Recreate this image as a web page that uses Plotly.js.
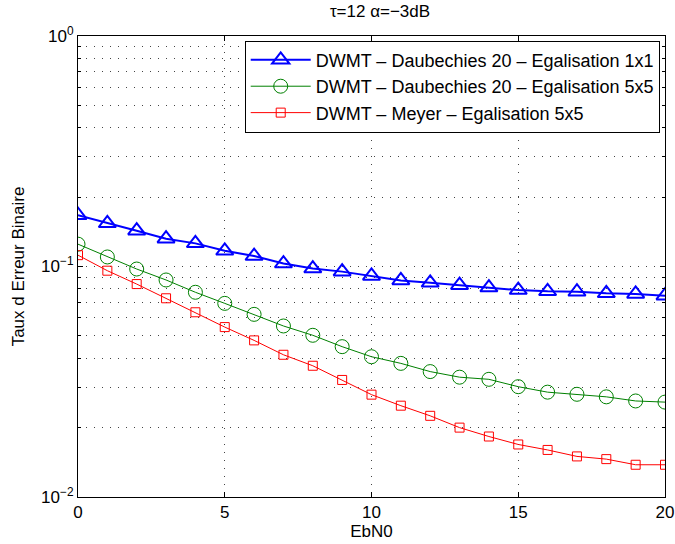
<!DOCTYPE html>
<html><head><meta charset="utf-8">
<script src="https://cdn.plot.ly/plotly-3.0.1.min.js"></script>
<style>html,body{margin:0;padding:0;background:#fff}#chart{width:675px;height:544px}</style>
</head><body><div id="chart"></div>
<script>
const ebn0 = [0,1,2,3,4,5,6,7,8,9,10,11,12,13,14,15,16,17,18,19,20];
const berDaub1x1 = [0.167,0.154,0.143,0.132,0.126,0.117,0.111,0.103,0.098,0.095,0.091,0.087,0.085,0.083,0.081,0.079,0.078,0.0777,0.0765,0.076,0.0747];
const berDaub5x5 = [0.125,0.110,0.0975,0.0874,0.0773,0.0692,0.062,0.0552,0.0503,0.0449,0.0406,0.038,0.035,0.0331,0.0324,0.0301,0.0285,0.0279,0.0272,0.0261,0.0258];
const berMeyer5x5 = [0.112,0.0959,0.0839,0.0728,0.0633,0.0546,0.0478,0.0414,0.0371,0.0322,0.0278,0.0249,0.0225,0.0200,0.0183,0.0169,0.0160,0.0150,0.0146,0.0138,0.0138];
const seriesNames = ['DWMT \u2013 Daubechies 20 \u2013 Egalisation 1x1','DWMT \u2013 Daubechies 20 \u2013 Egalisation 5x5','DWMT \u2013 Meyer \u2013 Egalisation 5x5'];
const yTickVals = [0.01,0.1,1];
const yTickText = ['10<sup>\u22122</sup>','10<sup>\u22121</sup>','10<sup>0</sup>'];
const chartTitle = '\u03c4=12 \u03b1=\u22123dB';

const minorVals = [];
[0.01,0.1].forEach(d => { for (let k=2;k<=9;k++) minorVals.push(+(d*k).toPrecision(3)); });

const traces = [
  {x: ebn0, y: berDaub1x1, name: seriesNames[0], mode:'lines+markers',
   line:{color:'#0000ff', width:2}, marker:{symbol:'triangle-up-open', size:15, color:'#0000ff', line:{width:2, color:'#0000ff'}}},
  {x: ebn0, y: berDaub5x5, name: seriesNames[1], mode:'lines+markers',
   line:{color:'#008000', width:1}, marker:{symbol:'circle-open', size:14, color:'#008000', line:{width:1, color:'#008000'}}},
  {x: ebn0, y: berMeyer5x5, name: seriesNames[2], mode:'lines+markers',
   line:{color:'#ff0000', width:1}, marker:{symbol:'square-open', size:9, color:'#ff0000', line:{width:1, color:'#ff0000'}}}
];

const font = {family:'Liberation Sans, Arial, sans-serif', color:'#000'};
const gridStyle = {showgrid:true, gridcolor:'#444', griddash:'1px,7px', gridwidth:1};
const layout = {
  width:675, height:544,
  margin:{l:78, r:10, t:36, b:47},
  paper_bgcolor:'#fff', plot_bgcolor:'#fff',
  font: Object.assign({size:17}, font),
  title:{text: chartTitle, font:Object.assign({size:17}, font), x:0.563, xanchor:'center', y:0.99, yanchor:'top'},
  showlegend:true,
  legend:{x:0.991, xanchor:'right', y:0.99, yanchor:'top', bgcolor:'#fff', bordercolor:'#000', borderwidth:1,
          font:Object.assign({size:18}, font), tracegroupgap:0, itemwidth:60},
  xaxis:Object.assign({range:[0,20], dtick:5, tick0:0, showline:true, mirror:'ticks', linecolor:'#000', linewidth:1,
         ticks:'inside', ticklen:5, tickcolor:'#000',
         zeroline:false, tickfont:Object.assign({size:17}, font),
         title:{text:'EbN0', font:Object.assign({size:17}, font), standoff:2}}, gridStyle),
  yaxis:Object.assign({type:'log', range:[-2,0], tickmode:'array', tickvals:yTickVals, ticktext:yTickText,
         showline:true, mirror:'ticks', linecolor:'#000', linewidth:1,
         ticks:'inside', ticklen:5, tickcolor:'#000',
         zeroline:false, tickfont:Object.assign({size:17}, font),
         minor:Object.assign({tickmode:'array', tickvals:minorVals, ticks:'inside', ticklen:3, tickcolor:'#000'}, gridStyle),
         title:{text:'Taux d Erreur Binaire', font:Object.assign({size:17}, font), standoff:12}}, gridStyle)
};
Plotly.newPlot('chart', traces, layout, {displayModeBar:false, staticPlot:true});
</script></body></html>
